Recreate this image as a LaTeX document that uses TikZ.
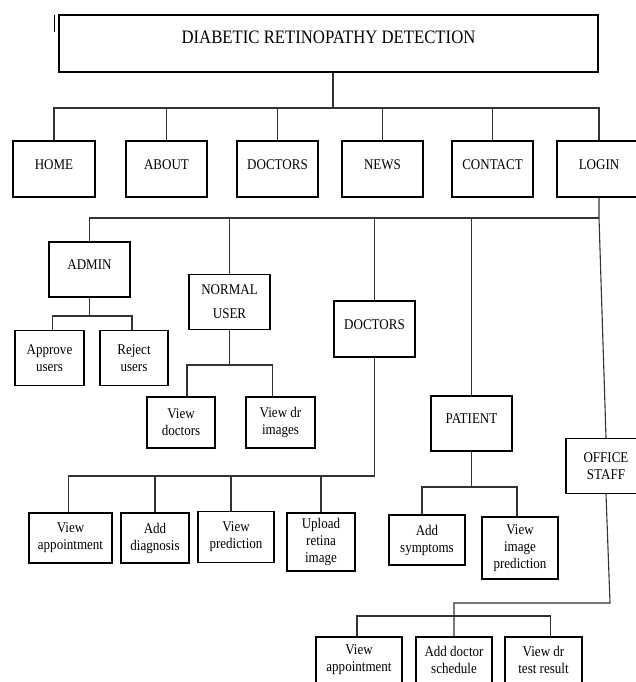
\documentclass[tikz,border=0pt]{standalone}
\usepackage{fontspec}
\setmainfont{Liberation Serif}[FakeStretch=0.88]
\begin{document}
\begin{tikzpicture}[x=1pt,y=-1pt,
  bx/.style={draw=black, line width=1.1pt, inner sep=0pt, align=center, font=\fontsize{14.8}{17}\selectfont},
  wh/.style 2 args={minimum width=#1pt, minimum height=#2pt},
  capsbox/.style={text depth=9pt},
  conn/.style={draw=black!80, line width=1.1pt}]
\useasboundingbox (0,0) rectangle (635,682);
% mark
\coordinate (m1) at (54,15); \coordinate (m2) at (54,32);
\draw[line width=1pt] (m1) -- (m2);
% title
\node[bx, wh={539}{57}, font=\fontsize{19}{22}\selectfont, text depth=13pt] (title) at (328.5,43.5) {DIABETIC RETINOPATHY DETECTION};
% main row
\node[bx, wh={82}{56}, capsbox] (home) at (54,169) {HOME};
\node[bx, wh={81}{56}, capsbox] (about) at (166.5,169) {ABOUT};
\node[bx, wh={81}{56}, capsbox] (doctors) at (277.5,169) {DOCTORS};
\node[bx, wh={81}{56}, capsbox] (news) at (382.5,169) {NEWS};
\node[bx, wh={81}{56}, capsbox] (contact) at (492.5,169) {CONTACT};
\node[bx, wh={84}{56}, capsbox] (login) at (599,169) {LOGIN};
% second level
\node[bx, wh={81}{55}, capsbox] (admin) at (89.5,269.5) {ADMIN};
\node[bx, wh={81}{55}] (nuser) at (229.5,302) {NORMAL\\[7pt]USER};
\node[bx, wh={81}{56}, capsbox] (docs2) at (374.5,329) {DOCTORS};
\node[bx, wh={81}{55}, capsbox] (patient) at (471.5,423.5) {PATIENT};
\node[bx, wh={80}{55}] (office) at (606,466) {OFFICE\\STAFF};
% admin children
\node[bx, wh={69}{55}] (approve) at (49.5,358) {Approve\\users};
\node[bx, wh={68}{55}] (reject) at (134,358) {Reject\\users};
% normal user children
\node[bx, wh={68}{51}] (vdoc) at (181,422.5) {View\\doctors};
\node[bx, wh={69}{51}] (vdr) at (280.5,422.5) {View dr\\images};
% doctors children
\node[bx, wh={83}{50}] (vappt) at (70.5,538) {View\\appointment};
\node[bx, wh={68}{50}] (adiag) at (155,538) {Add\\diagnosis};
\node[bx, wh={76}{51}] (vpred) at (236,537) {View\\prediction};
\node[bx, wh={68}{58}] (upload) at (321,542) {Upload\\retina\\image};
% patient children
\node[bx, wh={76}{50}] (asym) at (427,540) {Add\\symptoms};
\node[bx, wh={76}{62}] (vimg) at (520,548) {View\\image\\prediction};
% office staff children
\node[bx, wh={86}{46}] (vappt2) at (359,660) {View\\appointment};
\node[bx, wh={76}{46}] (sched) at (454,660) {Add doctor\\schedule};
\node[bx, wh={77}{46}] (vtest) at (543.5,660) {View dr\\test result};
% connectors
\coordinate (b1) at (333,108);
\draw[conn] (title.south -| b1) -- (b1);
\foreach \n in {home,about,doctors,news,contact,login} \draw[conn] (\n.north) |- (b1);
\coordinate (b2) at (599,218);
\draw[conn] (login.south) -- (b2) -- (office.north);
\foreach \n in {admin,nuser,docs2,patient} \draw[conn] (\n.north) |- (b2);
\coordinate (b3) at (89.5,316);
\draw[conn] (admin.south) -- (b3);
\draw[conn] ([xshift=3pt]approve.north) |- (b3);
\draw[conn] ([xshift=-2pt]reject.north) |- (b3);
\coordinate (b4) at (229.5,365);
\draw[conn] (nuser.south) -- (b4);
\draw[conn] ([xshift=6pt]vdoc.north) |- (b4);
\draw[conn] ([xshift=-8pt]vdr.north) |- (b4);
\coordinate (b5) at (374.5,476);
\draw[conn] (docs2.south) -- (b5);
\draw[conn] ([xshift=-2pt]vappt.north) |- (b5);
\draw[conn] (adiag.north) |- (b5);
\draw[conn] ([xshift=-5pt]vpred.north) |- (b5);
\draw[conn] (upload.north) |- (b5);
\coordinate (b6) at (471.5,487);
\draw[conn] (patient.south) -- (b6);
\draw[conn] ([xshift=-5pt]asym.north) |- (b6);
\draw[conn] ([xshift=-3pt]vimg.north) |- (b6);
\coordinate (b7) at (610,603);
\draw[conn] (office.south) -- (b7) -| (sched.north);
\coordinate (b8) at (454,616);
\draw[conn] ([xshift=-2pt]vappt2.north) |- (b8);
\draw[conn] ([xshift=7pt]vtest.north) |- (b8);
\end{tikzpicture}
\end{document}
